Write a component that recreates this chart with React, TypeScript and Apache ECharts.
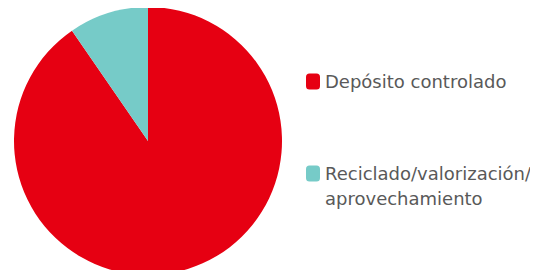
import React, { useEffect, useRef } from "react";
import * as echarts from "echarts";

const categories = ["Depósito controlado", "Reciclado/valorización/\naprovechamiento"];
const values = [90.4, 9.6];
const colors = ["#E60012", "#76CBC8"];

export default function App() {
  const ref = useRef<HTMLDivElement>(null);
  useEffect(() => {
    const chart = echarts.init(ref.current!, null, { renderer: "svg" });
    const textStyle = {
      fontFamily: "DejaVu Sans",
      fontSize: 18,
      color: "#595959",
      lineHeight: 25,
    };
    chart.setOption({
      animation: false,
      legend: [
        {
          orient: "vertical",
          left: 301,
          top: 64,
          itemWidth: 14,
          itemHeight: 16,
          itemGap: 4,
          icon: "roundRect",
          data: [categories[0]],
          textStyle,
        },
        {
          orient: "vertical",
          left: 301,
          top: 131,
          itemWidth: 14,
          itemHeight: 16,
          itemGap: 4,
          icon: "roundRect",
          data: [categories[1]],
          formatter: (name: string) => "\n" + name,
          textStyle,
        },
      ],
      series: [
        {
          type: "pie",
          center: [148, 141],
          radius: 134,
          startAngle: 90,
          clockwise: true,
          label: { show: false },
          labelLine: { show: false },
          itemStyle: { borderWidth: 0 },
          emphasis: { disabled: true },
          data: categories.map((name, i) => ({
            name,
            value: values[i],
            itemStyle: { color: colors[i] },
          })),
        },
      ],
    });
    return () => chart.dispose();
  }, []);
  return <div ref={ref} style={{ width: 538, height: 278, margin: -8 }} />;
}
